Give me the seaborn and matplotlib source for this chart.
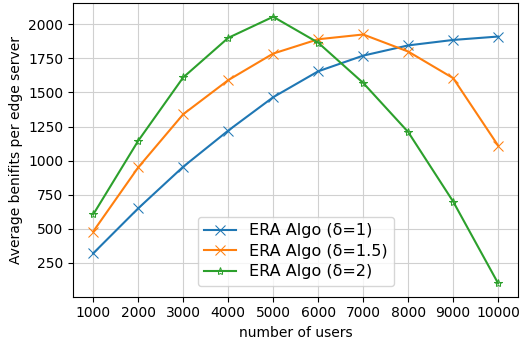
import matplotlib
matplotlib.use('Agg')
import matplotlib.pyplot as plt
import seaborn as sns
import pandas as pd

# data
users = [1000, 2000, 3000, 4000, 5000, 6000, 7000, 8000, 9000, 10000]
delta_1 = [320, 650, 955, 1220, 1465, 1655, 1770, 1845, 1885, 1910]
delta_15 = [480, 950, 1340, 1590, 1785, 1890, 1925, 1800, 1605, 1110]
delta_2 = [605, 1145, 1610, 1900, 2055, 1865, 1570, 1210, 700, 100]
labels = ['ERA Algo (δ=1)', 'ERA Algo (δ=1.5)', 'ERA Algo (δ=2)']
markers = ['x', 'x', '*']

fig, ax = plt.subplots(figsize=(5.21, 3.43), dpi=100)
colors = sns.color_palette('tab10')

for i, (vals, lab, mk) in enumerate(zip([delta_1, delta_15, delta_2], labels, markers)):
    df = pd.DataFrame({'users': users, 'benefit': vals})
    sns.lineplot(data=df, x='users', y='benefit', ax=ax, color=colors[i],
                 marker=mk, markersize=6.5 if mk == 'x' else 6,
                 markerfacecolor='none' if mk == '*' else colors[i],
                 markeredgecolor=colors[i], label=lab)

ax.set_xticks(users)
ax.set_yticks([250, 500, 750, 1000, 1250, 1500, 1750, 2000])
ax.set_xlabel('number of users')
ax.set_ylabel('Average benifits per edge server')
ax.grid(True, color='#d0d0d0')
ax.legend(loc='lower center', fontsize=11.5, labelspacing=0.35,
          bbox_to_anchor=(0.5, 0.01))

plt.subplots_adjust(left=0.14, right=0.995, top=0.99, bottom=0.135)
plt.savefig('out.png', dpi=100)
